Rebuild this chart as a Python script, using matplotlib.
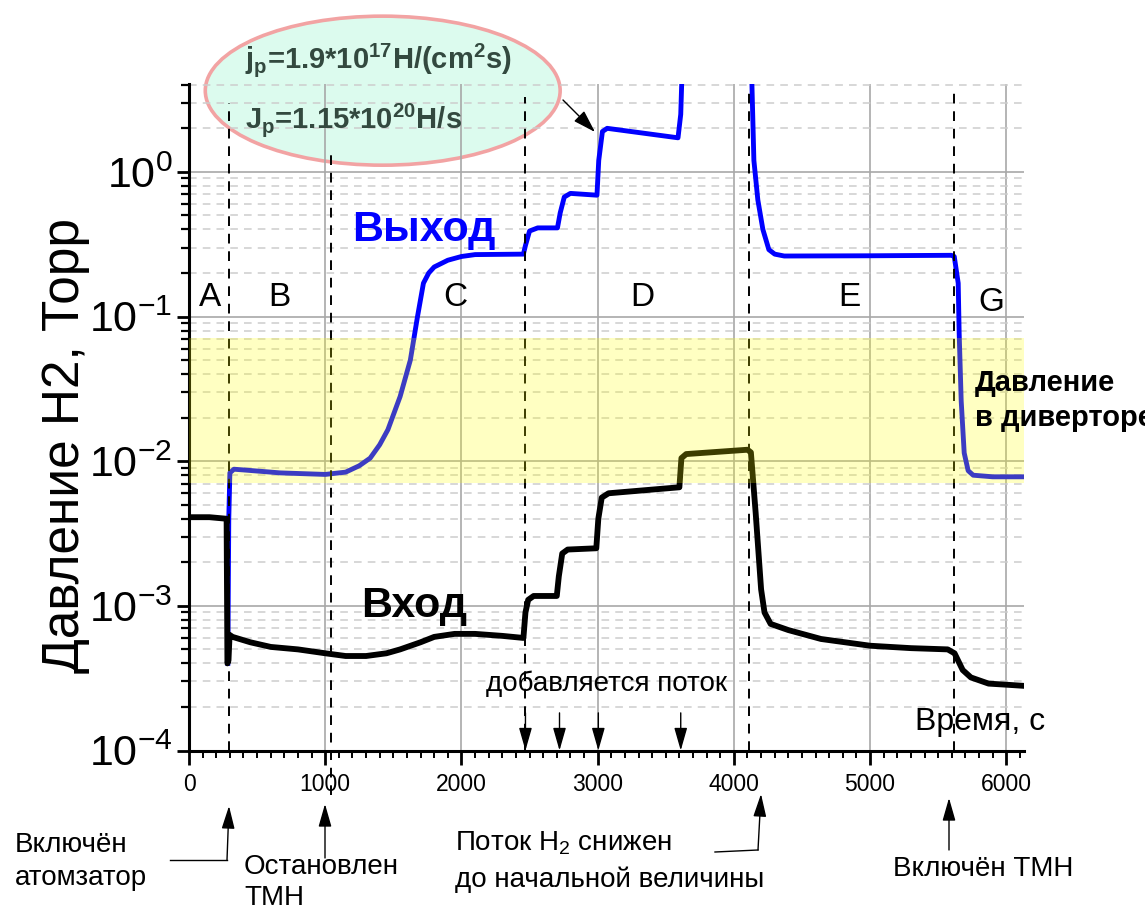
import matplotlib.pyplot as plt
from matplotlib.patches import Ellipse
from matplotlib.lines import Line2D
from matplotlib.ticker import LogLocator, NullFormatter, MultipleLocator

plt.rcParams['font.family'] = ['Liberation Sans', 'DejaVu Sans']
plt.rcParams['mathtext.fontset'] = 'custom'
plt.rcParams['mathtext.rm'] = 'Liberation Sans'
plt.rcParams['mathtext.bf'] = 'Liberation Sans:bold'
plt.rcParams['mathtext.it'] = 'Liberation Sans:italic'
plt.rcParams['axes.unicode_minus'] = False

# --- data ---
# outlet pressure (Выход), Torr
t_out = [285, 292, 300, 330, 400, 670, 1000, 1150, 1250, 1330, 1400, 1460, 1550,
         1625, 1676, 1721, 1760, 1800, 1900, 2000, 2100, 2455, 2470, 2500, 2560,
         2705, 2725, 2755, 2800, 2995, 3008, 3035, 3070, 3590, 3610, 3630, 3650,
         4115, 4130, 4147, 4176, 4213, 4257, 4300, 4370, 5000, 5596, 5618, 5647,
         5654, 5669, 5691, 5720, 5757, 5900, 6125]
p_out = [4.0e-4, 4.0e-3, 8.3e-3, 8.8e-3, 8.7e-3, 8.3e-3, 8.1e-3, 8.4e-3, 9.3e-3,
         1.05e-2, 1.3e-2, 1.65e-2, 2.8e-2, 5.0e-2, 9.8e-2, 0.17, 0.20, 0.22, 0.245,
         0.26, 0.268, 0.27, 0.31, 0.39, 0.41, 0.41, 0.52, 0.67, 0.71, 0.69, 1.2, 1.9,
         2.0, 1.72, 2.5, 10.0, 20.0, 20.0, 5.0, 1.2, 0.64, 0.40, 0.29, 0.27, 0.262,
         0.263, 0.265, 0.26, 0.17, 0.077, 0.026, 0.0114, 8.6e-3, 8.0e-3, 7.8e-3,
         7.8e-3]

# inlet pressure (Вход), Torr
t_in = [0, 150, 276, 282, 290, 298, 320, 450, 600, 800, 1000, 1150, 1300, 1450,
        1550, 1700, 1800, 1950, 2100, 2300, 2455, 2470, 2490, 2530, 2700, 2715,
        2740, 2780, 2990, 3005, 3030, 3080, 3600, 3615, 3650, 4100, 4125, 4160,
        4200, 4225, 4270, 4400, 4640, 5000, 5300, 5570, 5620, 5680, 5740, 5870,
        6000, 6125]
p_in = [4.1e-3, 4.1e-3, 4.0e-3, 4.0e-4, 4.2e-4, 6.3e-4, 6.1e-4, 5.6e-4, 5.2e-4,
        5.0e-4, 4.7e-4, 4.5e-4, 4.5e-4, 4.7e-4, 5.0e-4, 5.6e-4, 6.1e-4, 6.4e-4,
        6.4e-4, 6.2e-4, 6.0e-4, 9.0e-4, 1.1e-3, 1.17e-3, 1.17e-3, 1.6e-3, 2.3e-3,
        2.45e-3, 2.5e-3, 4.0e-3, 5.6e-3, 6.0e-3, 6.6e-3, 1.05e-2, 1.12e-2, 1.2e-2,
        1.15e-2, 4.4e-3, 1.3e-3, 9.0e-4, 7.5e-4, 6.8e-4, 5.9e-4, 5.3e-4, 5.1e-4,
        5.0e-4, 4.7e-4, 3.6e-4, 3.2e-4, 2.9e-4, 2.85e-4, 2.8e-4]

event_t = [294, 1045, 2470, 4110, 5618]          # dashed event lines
flow_t = [2470, 2720, 3005, 3610]                 # "добавляется поток" arrows
region_names = ['A', 'B', 'C', 'D', 'E', 'G']
region_t = [154, 662, 1956, 3331, 4846, 5890]
divertor_band = [7.05e-3, 7.05e-2]

W, H = 1145, 907


def fxy(x, y):
    # pixel position in the picture -> figure fraction
    return (x / W, 1 - y / H)


fig = plt.figure(figsize=(W / 100, H / 100), dpi=100)
ax = fig.add_axes([189 / W, 1 - 750.5 / H, 835 / W, 666.5 / H])

ax.plot(t_out, p_out, color='#0000ff', lw=3.5, zorder=2.5, solid_joinstyle='round')
ax.plot(t_in, p_in, color='black', lw=4.2, zorder=2.6, solid_joinstyle='round')

ax.axhspan(divertor_band[0], divertor_band[1], color='yellow', alpha=0.24, lw=0, zorder=4)

tops = [0.971, 0.898, 0.981, 0.987, 0.987]
for t, top in zip(event_t, tops):
    ymin = -0.067 if t == 1045 else 0
    ax.axvline(t, ymin=ymin, ymax=top, color='black', lw=1.4, ls=(0, (5, 4)),
               zorder=3, clip_on=False)

ax.set_yscale('log')
ax.set_xlim(0, 6130)
ax.set_ylim(1e-4, 4.05)
ax.set_yticks([1e-4, 1e-3, 1e-2, 1e-1, 1e0])
ax.yaxis.set_minor_locator(LogLocator(base=10, subs=range(2, 10)))
ax.yaxis.set_minor_formatter(NullFormatter())
ax.xaxis.set_major_locator(MultipleLocator(1000))
ax.xaxis.set_minor_locator(MultipleLocator(100))

ax.grid(which='major', color='#a8a8a8', lw=1.2, ls='-', zorder=1.5)
ax.yaxis.grid(which='minor', color='#cdcdcd', lw=1.1, ls=(0, (5, 4)))
ax.xaxis.grid(which='minor', visible=False)

for s in ['top', 'right']:
    ax.spines[s].set_visible(False)
for s in ['left', 'bottom']:
    ax.spines[s].set_linewidth(2.2)

ax.tick_params(axis='y', which='major', direction='out', length=9, width=2, labelsize=31, pad=3)
ax.tick_params(axis='y', which='minor', direction='out', length=6, width=1.6)
ax.tick_params(axis='x', which='major', direction='out', length=10, width=2, labelsize=16.5, pad=6)
ax.tick_params(axis='x', which='minor', direction='out', length=5, width=1.4)

ax.set_ylabel('Давление H2, Торр', fontsize=37)
ax.yaxis.set_label_coords(-0.118, 0.458)

# region letters
for name, t in zip(region_names, region_t):
    ax.text(t, 0.135 if name != 'G' else 0.125, name, fontsize=24,
            ha='center', va='center', zorder=5)

ax.text(1721, 0.395, 'Выход', color='#0000ff', fontsize=31, fontweight='bold',
        ha='center', va='center', zorder=5)
ax.text(1654, 1.0e-3, 'Вход', color='black', fontsize=31, fontweight='bold',
        ha='center', va='center', zorder=5)
ax.text(3066, 2.88e-4, 'добавляется поток', fontsize=20, ha='center', va='center', zorder=5)
ax.text(1.025, 0.043, 'Время, с', fontsize=23, ha='right', va='center',
        transform=ax.transAxes, zorder=5)

for t in flow_t:
    ax.annotate('', xy=(t, 1e-4), xytext=(t, 1.82e-4),
                arrowprops=dict(arrowstyle='-|>,head_length=0.7,head_width=0.2',
                                color='black', lw=1, mutation_scale=20,
                                shrinkA=0, shrinkB=0), zorder=5)

# ellipse with flux values
ell = Ellipse((0.232, 0.990), 0.425, 0.2236, transform=ax.transAxes,
              facecolor='#dcfbee', edgecolor='#f2a3a3', lw=2.6, zorder=1, clip_on=False)
ax.add_patch(ell)
txt_col = '#33493f'
fig.text(*fxy(245, 60), r'$\mathbf{j_p}$=1.9*10$^{\mathbf{17}}$H/(cm$^{\mathbf{2}}$s)',
         fontsize=21, fontweight='bold', color=txt_col, ha='left', va='center')
fig.text(*fxy(245, 120), r'$\mathbf{J_p}$=1.15*10$^{\mathbf{20}}$H/s',
         fontsize=21, fontweight='bold', color=txt_col, ha='left', va='center')
ax.annotate('', xy=fxy(595, 132), xytext=fxy(563, 100), xycoords='figure fraction',
            textcoords='figure fraction',
            arrowprops=dict(arrowstyle='-|>,head_length=0.7,head_width=0.22',
                            color='black', lw=1, mutation_scale=20, shrinkA=0, shrinkB=0))

# divertor label (runs off the right edge, as in the original)
fig.text(*fxy(975, 383), 'Давление', fontsize=21, fontweight='bold', ha='left',
         va='center', zorder=6)
fig.text(*fxy(975, 418), 'в диверторе', fontsize=21, fontweight='bold', ha='left',
         va='center', zorder=6)

# bottom notes
notes = [
    (15, 845, 'Включён'), (15, 878, 'атомзатор'),
    (244, 867, 'Остановлен'), (244, 898, 'ТМН'),
    (455, 843, r'Поток H$_2$ снижен'), (455, 880, 'до начальной величины'),
    (893, 869, 'Включён ТМН'),
]
for x, y, s in notes:
    fig.text(*fxy(x, y), s, fontsize=20, ha='left', va='center')

for (x0, y0), (x1, y1) in [((170, 860), (227, 860)), ((715, 852), (758, 850))]:
    fig.add_artist(Line2D([x0 / W, x1 / W], [1 - y0 / H, 1 - y1 / H],
                          color='black', lw=1))

up_arrows = [((227, 860), (229, 806)), ((325, 858), (325, 804)),
             ((758, 850), (761, 794)), ((949, 850), (949, 798))]
for start, end in up_arrows:
    ax.annotate('', xy=fxy(*end), xytext=fxy(*start), xycoords='figure fraction',
                textcoords='figure fraction',
                arrowprops=dict(arrowstyle='-|>,head_length=0.7,head_width=0.2',
                                color='black', lw=1, mutation_scale=20,
                                shrinkA=0, shrinkB=0))

fig.savefig('out.png', dpi=100)
